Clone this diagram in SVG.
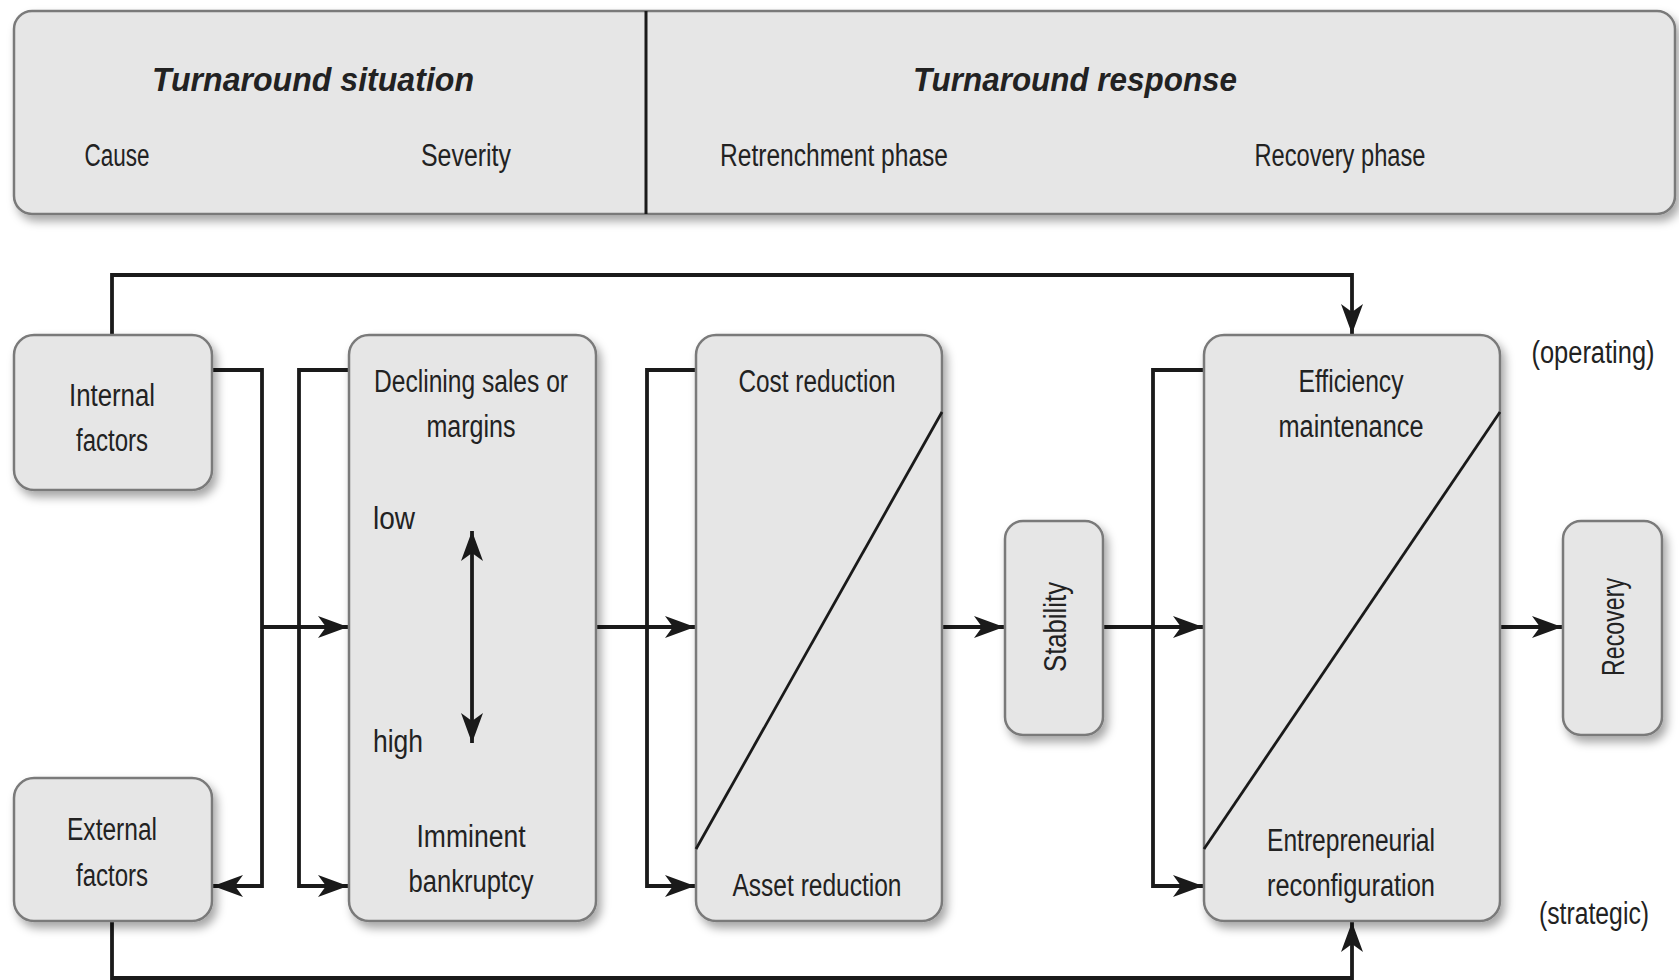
<svg xmlns="http://www.w3.org/2000/svg" width="1679" height="980" viewBox="0 0 1679 980">
<style>
.box{fill:#e6e6e6;stroke:#7a7a7a;stroke-width:2.5;filter:url(#sh)}
.ln{fill:none;stroke:#1a1a1a;stroke-width:3.8}
.dg{fill:none;stroke:#1a1a1a;stroke-width:2.8}
text{font-family:"Liberation Sans",Arial,sans-serif;fill:#222;font-size:31px}
.c{text-anchor:middle}
.t{font-weight:bold;font-style:italic;font-size:34px;text-anchor:middle}
</style>
<defs>
<filter id="sh" x="-20%" y="-20%" width="140%" height="140%">
<feDropShadow dx="4" dy="6" stdDeviation="5" flood-color="#000" flood-opacity="0.35"/>
</filter>
<marker id="ah" markerUnits="userSpaceOnUse" markerWidth="32" markerHeight="26" viewBox="-31 -13 32 26" refX="0" refY="0" orient="auto-start-reverse">
<path d="M0,0 L-30,-11 L-22,0 L-30,11 Z" fill="#1a1a1a"/>
</marker>
</defs>

<g id="header">
<rect class="box" x="14" y="11" width="1661" height="203" rx="18"/>
<line x1="646" y1="11" x2="646" y2="214" stroke="#1a1a1a" stroke-width="3"/>
<text class="t" x="313" y="91" textLength="322" lengthAdjust="spacingAndGlyphs">Turnaround situation</text>
<text class="t" x="1075" y="91" textLength="324" lengthAdjust="spacingAndGlyphs">Turnaround response</text>
<text class="c" x="117" y="166" textLength="65" lengthAdjust="spacingAndGlyphs">Cause</text>
<text class="c" x="466" y="166" textLength="90" lengthAdjust="spacingAndGlyphs">Severity</text>
<text class="c" x="834" y="166" textLength="228" lengthAdjust="spacingAndGlyphs">Retrenchment phase</text>
<text class="c" x="1340" y="166" textLength="171" lengthAdjust="spacingAndGlyphs">Recovery phase</text>
</g>

<g id="connectors">
<path class="ln" d="M112,335 V275 H1352 V334" marker-end="url(#ah)"/>
<path class="ln" d="M112,921 V978 H1352 V922" marker-end="url(#ah)"/>
<path class="ln" d="M212,370 H262 V886 H213" marker-end="url(#ah)"/>
<path class="ln" d="M262,627 H348" marker-end="url(#ah)"/>
<path class="ln" d="M349,370 H299 V886 H348" marker-end="url(#ah)"/>
<path class="ln" d="M596,627 H695" marker-end="url(#ah)"/>
<path class="ln" d="M696,370 H647 V886 H695" marker-end="url(#ah)"/>
<path class="ln" d="M942,627 H1004" marker-end="url(#ah)"/>
<path class="ln" d="M1103,627 H1203" marker-end="url(#ah)"/>
<path class="ln" d="M1204,370 H1153 V886 H1203" marker-end="url(#ah)"/>
<path class="ln" d="M1500,627 H1562" marker-end="url(#ah)"/>
</g>

<g id="internal">
<rect class="box" x="14" y="335" width="198" height="155" rx="20"/>
<text class="c" x="112" y="406" textLength="86" lengthAdjust="spacingAndGlyphs">Internal</text>
<text class="c" x="112" y="451" textLength="72" lengthAdjust="spacingAndGlyphs">factors</text>
</g>

<g id="external">
<rect class="box" x="14" y="778" width="198" height="143" rx="20"/>
<text class="c" x="112" y="840" textLength="90" lengthAdjust="spacingAndGlyphs">External</text>
<text class="c" x="112" y="886" textLength="72" lengthAdjust="spacingAndGlyphs">factors</text>
</g>

<g id="declining">
<rect class="box" x="349" y="335" width="247" height="586" rx="20"/>
<text class="c" x="471" y="392" textLength="194" lengthAdjust="spacingAndGlyphs">Declining sales or</text>
<text class="c" x="471" y="437" textLength="89" lengthAdjust="spacingAndGlyphs">margins</text>
<text x="373" y="529" textLength="42" lengthAdjust="spacingAndGlyphs">low</text>
<text x="373" y="752" textLength="50" lengthAdjust="spacingAndGlyphs">high</text>
<text class="c" x="471" y="847" textLength="109" lengthAdjust="spacingAndGlyphs">Imminent</text>
<text class="c" x="471" y="892" textLength="125" lengthAdjust="spacingAndGlyphs">bankruptcy</text>
<path class="ln" d="M472,531 V743" marker-start="url(#ah)" marker-end="url(#ah)"/>
</g>

<g id="cost">
<rect class="box" x="696" y="335" width="246" height="586" rx="20"/>
<line class="dg" x1="942" y1="412" x2="696" y2="849"/>
<text class="c" x="817" y="392" textLength="157" lengthAdjust="spacingAndGlyphs">Cost reduction</text>
<text class="c" x="817" y="896" textLength="169" lengthAdjust="spacingAndGlyphs">Asset reduction</text>
</g>

<g id="stability">
<rect class="box" x="1005" y="521" width="98" height="214" rx="18"/>
<text class="c" transform="translate(1066,627) rotate(-90)" x="0" y="0" textLength="90" lengthAdjust="spacingAndGlyphs">Stability</text>
</g>

<g id="efficiency">
<rect class="box" x="1204" y="335" width="296" height="586" rx="20"/>
<line class="dg" x1="1500" y1="412" x2="1204" y2="849"/>
<text class="c" x="1351" y="392" textLength="105" lengthAdjust="spacingAndGlyphs">Efficiency</text>
<text class="c" x="1351" y="437" textLength="145" lengthAdjust="spacingAndGlyphs">maintenance</text>
<text class="c" x="1351" y="851" textLength="168" lengthAdjust="spacingAndGlyphs">Entrepreneurial</text>
<text class="c" x="1351" y="896" textLength="168" lengthAdjust="spacingAndGlyphs">reconfiguration</text>
</g>

<g id="recovery">
<rect class="box" x="1563" y="521" width="99" height="214" rx="18"/>
<text class="c" transform="translate(1624,627) rotate(-90)" x="0" y="0" textLength="98" lengthAdjust="spacingAndGlyphs">Recovery</text>
</g>

<g id="labels">
<text class="c" x="1593" y="363" textLength="123" lengthAdjust="spacingAndGlyphs">(operating)</text>
<text class="c" x="1594" y="924" textLength="110" lengthAdjust="spacingAndGlyphs">(strategic)</text>
</g>
</svg>
